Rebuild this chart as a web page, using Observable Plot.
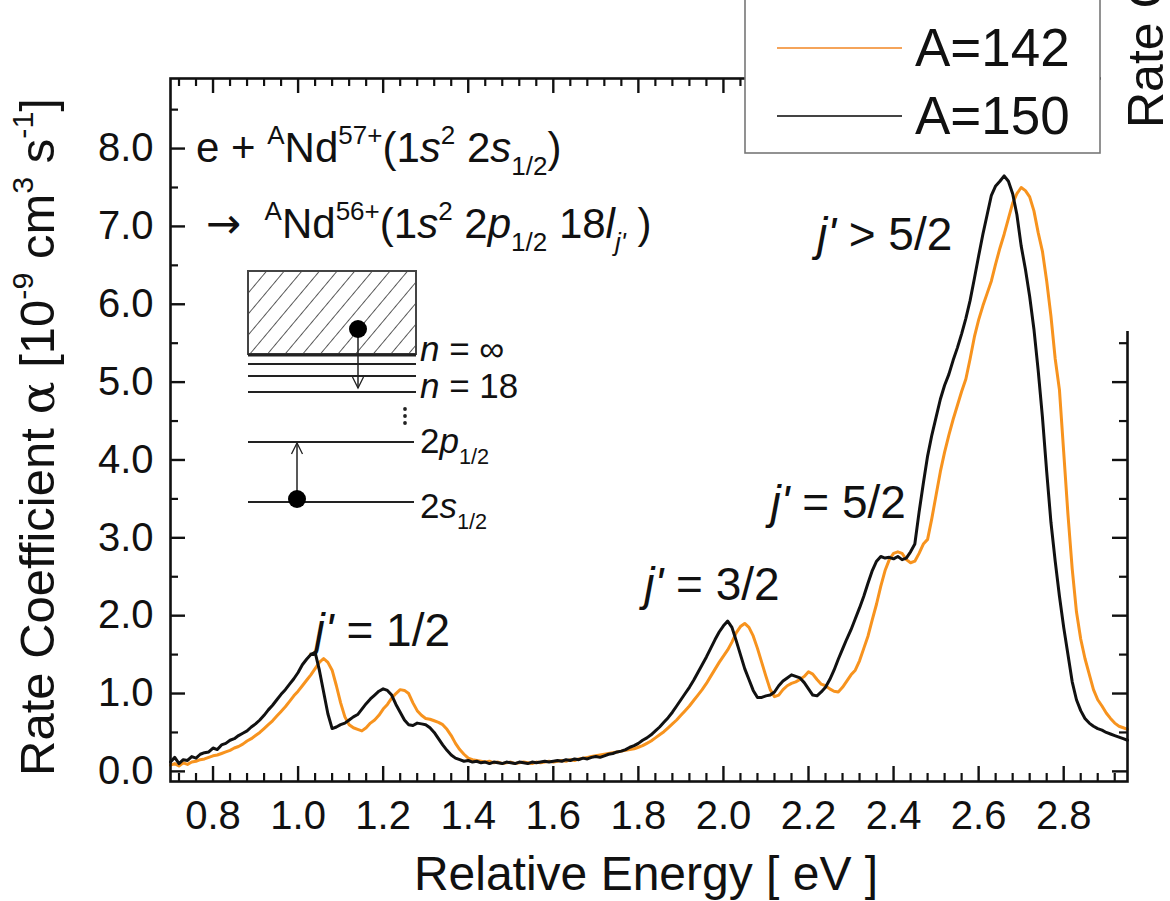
<!DOCTYPE html>
<html><head><meta charset="utf-8">
<script src="https://cdn.jsdelivr.net/npm/d3@7"></script>
<script src="https://cdn.jsdelivr.net/npm/@observablehq/plot@0.6"></script>
<style>
html,body{margin:0;padding:0;background:#fff;}
#chart{width:1170px;height:901px;overflow:hidden;position:relative;}
text{white-space:pre;}
</style></head><body><div id="chart"></div>
<script>
// ---------- data ----------
const energy = [
0.70,0.71,0.72,0.73,0.74,0.75,0.76,0.77,0.78,0.79,
0.80,0.81,0.82,0.83,0.84,0.85,0.86,0.87,0.88,0.89,
0.90,0.91,0.92,0.93,0.94,0.95,0.96,0.97,0.98,0.99,
1.00,1.01,1.02,1.03,1.04,1.05,1.06,1.07,1.08,1.09,
1.10,1.11,1.12,1.13,1.14,1.15,1.16,1.17,1.18,1.19,
1.20,1.21,1.22,1.23,1.24,1.25,1.26,1.27,1.28,1.29,
1.30,1.31,1.32,1.33,1.34,1.35,1.36,1.37,1.38,1.39,
1.40,1.41,1.42,1.43,1.44,1.45,1.46,1.47,1.48,1.49,
1.50,1.51,1.52,1.53,1.54,1.55,1.56,1.57,1.58,1.59,
1.60,1.61,1.62,1.63,1.64,1.65,1.66,1.67,1.68,1.69,
1.70,1.71,1.72,1.73,1.74,1.75,1.76,1.77,1.78,1.79,
1.80,1.81,1.82,1.83,1.84,1.85,1.86,1.87,1.88,1.89,
1.90,1.91,1.92,1.93,1.94,1.95,1.96,1.97,1.98,1.99,
2.00,2.01,2.02,2.03,2.04,2.05,2.06,2.07,2.08,2.09,
2.10,2.11,2.12,2.13,2.14,2.15,2.16,2.17,2.18,2.19,
2.20,2.21,2.22,2.23,2.24,2.25,2.26,2.27,2.28,2.29,
2.30,2.31,2.32,2.33,2.34,2.35,2.36,2.37,2.38,2.39,
2.40,2.41,2.42,2.43,2.44,2.45,2.46,2.47,2.48,2.49,
2.50,2.51,2.52,2.53,2.54,2.55,2.56,2.57,2.58,2.59,
2.60,2.61,2.62,2.63,2.64,2.65,2.66,2.67,2.68,2.69,
2.70,2.71,2.72,2.73,2.74,2.75,2.76,2.77,2.78,2.79,
2.80,2.81,2.82,2.83,2.84,2.85,2.86,2.87,2.88,2.89,
2.90,2.91,2.92,2.93,2.94,2.95];

const rateA142 = [
0.08,0.10,0.07,0.11,0.09,0.12,0.13,0.15,0.16,0.18,
0.20,0.21,0.23,0.25,0.27,0.30,0.32,0.35,0.39,0.42,
0.46,0.50,0.55,0.60,0.65,0.71,0.77,0.83,0.90,0.97,
1.03,1.10,1.17,1.24,1.32,1.40,1.45,1.40,1.30,1.10,
0.88,0.70,0.60,0.56,0.54,0.52,0.56,0.62,0.66,0.72,
0.80,0.86,0.94,1.00,1.05,1.04,1.00,0.88,0.78,0.72,
0.68,0.67,0.65,0.63,0.60,0.54,0.46,0.36,0.28,0.22,
0.17,0.15,0.14,0.13,0.12,0.13,0.11,0.12,0.10,0.11,
0.12,0.10,0.11,0.12,0.11,0.10,0.12,0.11,0.12,0.13,
0.12,0.13,0.14,0.13,0.15,0.14,0.16,0.17,0.18,0.19,
0.20,0.21,0.22,0.23,0.24,0.25,0.26,0.27,0.28,0.29,
0.31,0.33,0.36,0.39,0.43,0.47,0.51,0.56,0.61,0.66,
0.72,0.78,0.84,0.91,0.98,1.05,1.13,1.22,1.31,1.40,
1.48,1.56,1.66,1.78,1.86,1.90,1.85,1.74,1.58,1.40,
1.22,1.05,0.96,0.98,1.05,1.10,1.13,1.15,1.18,1.22,
1.28,1.25,1.18,1.12,1.10,1.06,1.03,1.02,1.08,1.16,
1.24,1.30,1.42,1.58,1.74,1.95,2.15,2.38,2.58,2.72,
2.80,2.82,2.80,2.72,2.68,2.70,2.80,2.92,2.98,3.25,
3.55,3.85,4.10,4.32,4.52,4.70,4.88,5.04,5.30,5.58,
5.80,5.98,6.14,6.30,6.52,6.72,6.90,7.10,7.30,7.42,
7.50,7.46,7.38,7.20,6.92,6.68,6.30,5.85,5.30,4.90,
4.10,3.30,2.60,2.05,1.70,1.45,1.25,1.05,0.92,0.84,
0.75,0.68,0.62,0.58,0.56,0.54];

const rateA150 = [
0.12,0.18,0.10,0.15,0.14,0.19,0.17,0.22,0.24,0.25,
0.30,0.28,0.34,0.36,0.40,0.42,0.46,0.49,0.52,0.57,
0.61,0.66,0.72,0.79,0.85,0.92,0.99,1.05,1.12,1.19,
1.27,1.37,1.44,1.50,1.53,1.30,1.02,0.74,0.55,0.57,
0.60,0.62,0.66,0.70,0.73,0.80,0.87,0.93,0.98,1.03,
1.06,1.04,0.98,0.86,0.76,0.66,0.60,0.59,0.62,0.61,
0.60,0.56,0.50,0.42,0.34,0.27,0.21,0.17,0.15,0.13,
0.14,0.12,0.13,0.11,0.12,0.10,0.12,0.11,0.10,0.12,
0.11,0.10,0.12,0.11,0.10,0.12,0.11,0.12,0.13,0.12,
0.13,0.14,0.13,0.15,0.14,0.16,0.15,0.17,0.16,0.18,
0.19,0.18,0.20,0.22,0.23,0.25,0.26,0.28,0.31,0.33,
0.36,0.40,0.43,0.47,0.52,0.57,0.63,0.69,0.76,0.84,
0.92,1.00,1.08,1.17,1.27,1.37,1.47,1.58,1.69,1.79,
1.87,1.93,1.85,1.68,1.50,1.32,1.18,1.04,0.95,0.95,
0.97,0.98,1.02,1.10,1.16,1.20,1.24,1.22,1.20,1.14,
1.06,0.98,0.97,1.02,1.08,1.18,1.30,1.44,1.57,1.70,
1.82,1.96,2.10,2.25,2.42,2.58,2.70,2.76,2.74,2.75,
2.73,2.76,2.72,2.74,2.82,2.92,3.33,3.70,4.05,4.32,
4.55,4.78,4.96,5.10,5.28,5.44,5.62,5.82,6.05,6.33,
6.62,6.90,7.15,7.40,7.52,7.58,7.65,7.58,7.42,7.15,
6.75,6.45,6.10,5.68,5.15,4.55,3.85,3.20,2.70,2.25,
1.85,1.50,1.15,0.92,0.78,0.68,0.62,0.58,0.55,0.53,
0.50,0.48,0.46,0.44,0.42,0.40];

const seriesNames = ["A=142", "A=150"];
const seriesColors = ["#f7931e", "#111111"];
const xTickValues = [0.8, 1.0, 1.2, 1.4, 1.6, 1.8, 2.0, 2.2, 2.4, 2.6, 2.8];
const yTickValues = [0, 1, 2, 3, 4, 5, 6, 7, 8];
const xDomain = [0.70, 2.95];
const yDomain = [-0.13, 8.9];
// peak labels: [energy, rate, relation, value]
const peakLabels = [
  {E: 1.040, v: 1.60, rel: " = ", val: "1/2"},
  {E: 1.815, v: 2.20, rel: " = ", val: "3/2"},
  {E: 2.112, v: 3.25, rel: " = ", val: "5/2"},
  {E: 2.221, v: 6.69, rel: " > ", val: "5/2"}
];

// ---------- build ----------
const s142 = energy.map((E, i) => ({E, v: rateA142[i], s: seriesNames[0]}));
const s150 = energy.map((E, i) => ({E, v: rateA150[i], s: seriesNames[1]}));

const W = 1170, H = 901, mL = 170, mR = 43, mT = 78, mB = 120;
const fH = H - mT - mB, fW = W - mL - mR;
const xMinor = d3.range(0.72, 2.95, 0.04).filter(t => !xTickValues.some(m => Math.abs(m - t) < 1e-6));
const yMinor = d3.range(0.5, 8.9, 1);
const FONT = "'Liberation Sans', Arial, Helvetica, sans-serif";

const plot = Plot.plot({
  width: W, height: H,
  marginLeft: mL, marginRight: mR, marginTop: mT, marginBottom: mB,
  style: {fontFamily: FONT, fontSize: "40px", color: "#111", background: "#fff", overflow: "visible"},
  x: {domain: xDomain},
  y: {domain: yDomain},
  marks: [
    Plot.line(s142, {x: "E", y: "v", stroke: seriesColors[0], strokeWidth: 3}),
    Plot.line(s150, {x: "E", y: "v", stroke: seriesColors[1], strokeWidth: 3}),
    // inward ticks
    Plot.tickX(xTickValues, {x: d => d, insetTop: fH - 15, stroke: "#111", strokeWidth: 2.4}),
    Plot.tickX(xMinor, {x: d => d, insetTop: fH - 8, stroke: "#111", strokeWidth: 2.2}),
    Plot.tickX(xTickValues, {x: d => d, insetBottom: fH - 15, stroke: "#111", strokeWidth: 2.4}),
    Plot.tickX(xMinor, {x: d => d, insetBottom: fH - 8, stroke: "#111", strokeWidth: 2.2}),
    Plot.tickY(yTickValues, {y: d => d, insetRight: fW - 15, stroke: "#111", strokeWidth: 2.4}),
    Plot.tickY(yMinor, {y: d => d, insetRight: fW - 8, stroke: "#111", strokeWidth: 2.2}),
    Plot.tickY(yTickValues, {y: d => d, insetLeft: fW - 15, stroke: "#111", strokeWidth: 2.4}),
    Plot.tickY(yMinor, {y: d => d, insetLeft: fW - 8, stroke: "#111", strokeWidth: 2.2}),
    Plot.axisX({ticks: xTickValues, tickSize: 0, tickPadding: 19, tickFormat: d3.format(".1f"), fontSize: 40, label: null}),
    Plot.axisY({ticks: yTickValues, tickSize: 0, tickPadding: 17, tickFormat: d3.format(".1f"), fontSize: 40, label: null}),
    Plot.frame({stroke: "#111", strokeWidth: 2.6})
  ]
});
document.getElementById("chart").appendChild(plot);

const svg = d3.select(plot);
const xs = plot.scale("x"), ys = plot.scale("y");

function rich(sel, x, y, size, parts, extra) {
  const t = sel.append("text").attr("x", x).attr("y", y).attr("text-anchor", "start")
    .attr("font-size", size).attr("font-family", FONT).attr("fill", "#111");
  if (extra) extra(t);
  let shift = 0;
  for (const p of parts) {
    const target = p.sup ? -0.42 * size : p.sub ? 0.30 * size : 0;
    const fs = (p.sup || p.sub) ? size * 0.62 : size;
    const ts = t.append("tspan").attr("dy", target - shift).attr("font-size", fs)
      .attr("font-style", p.it ? "italic" : "normal").text(p.t);
    if (p.font) ts.attr("font-family", p.font);
    shift = target;
  }
  return t;
}

// axis titles
svg.append("text").attr("x", 646).attr("y", 890).attr("text-anchor", "middle")
  .attr("font-size", 48).attr("font-family", FONT).attr("fill", "#111")
  .text("Relative Energy [ eV ]");
rich(svg, 0, 0, 49, [
  {t: "Rate Coefficient "}, {t: "α", font: "'DejaVu Serif', serif"}, {t: " [10"}, {t: "-9", sup: true},
  {t: " cm"}, {t: "3", sup: true}, {t: " s"}, {t: "-1", sup: true}, {t: "]"}
], t => t.attr("text-anchor", "middle").attr("transform", "translate(54,437) rotate(-90)"));

// reaction formula
rich(svg, 196, 162, 42, [
  {t: "e + "}, {t: "A", sup: true}, {t: "Nd"}, {t: "57+", sup: true}, {t: "(1"}, {t: "s", it: true},
  {t: "2", sup: true}, {t: " 2"}, {t: "s", it: true}, {t: "1/2", sub: true}, {t: ")"}
]);
rich(svg, 206, 238, 42, [
  {t: "→", font: "'DejaVu Sans', sans-serif"}, {t: "  "}, {t: "A", sup: true}, {t: "Nd"}, {t: "56+", sup: true}, {t: "(1"}, {t: "s", it: true},
  {t: "2", sup: true}, {t: " 2"}, {t: "p", it: true}, {t: "1/2", sub: true}, {t: " 18"}, {t: "l", it: true},
  {t: "j'", sub: true, it: true}, {t: " )"}
]);

// peak labels
for (const p of peakLabels) {
  rich(svg, xs.apply(p.E), ys.apply(p.v), 46, [{t: "j'", it: true}, {t: p.rel + p.val}]);
}

// energy level inset
const g = svg.append("g").attr("stroke", "#222").attr("fill", "none");
const defs = svg.append("defs");
const pat = defs.append("pattern").attr("id", "hatch").attr("patternUnits", "userSpaceOnUse")
  .attr("width", 13.5).attr("height", 13.5).attr("patternTransform", "rotate(40)");
pat.append("line").attr("x1", 0).attr("y1", 0).attr("x2", 0).attr("y2", 13.5)
  .attr("stroke", "#333").attr("stroke-width", 1.6);
g.append("rect").attr("x", 248).attr("y", 271).attr("width", 168).attr("height", 83)
  .attr("fill", "url(#hatch)").attr("stroke", "#444").attr("stroke-width", 2);
g.append("line").attr("x1", 248).attr("x2", 416).attr("y1", 355).attr("y2", 355).attr("stroke-width", 3);
for (const yy of [364, 376, 392]) g.append("line").attr("x1", 248).attr("x2", 416).attr("y1", yy).attr("y2", yy).attr("stroke-width", 1.8);
g.append("line").attr("x1", 248).attr("x2", 414).attr("y1", 442).attr("y2", 442).attr("stroke-width", 1.8);
g.append("line").attr("x1", 248).attr("x2", 414).attr("y1", 502).attr("y2", 502).attr("stroke-width", 1.8);
g.append("line").attr("x1", 358).attr("x2", 358).attr("y1", 329).attr("y2", 388).attr("stroke-width", 1.5);
g.append("path").attr("d", "M352.5,377 L358,388 L363.5,377").attr("stroke-width", 1.3);
g.append("line").attr("x1", 297).attr("x2", 297).attr("y1", 499).attr("y2", 443).attr("stroke-width", 1.5);
g.append("path").attr("d", "M291.5,454 L297,443 L302.5,454").attr("stroke-width", 1.3);
g.append("circle").attr("cx", 358).attr("cy", 329).attr("r", 9).attr("fill", "#000").attr("stroke", "none");
g.append("circle").attr("cx", 297).attr("cy", 499).attr("r", 9).attr("fill", "#000").attr("stroke", "none");
for (const yy of [409, 416, 423]) g.append("circle").attr("cx", 405).attr("cy", yy).attr("r", 1.9).attr("fill", "#222").attr("stroke", "none");
rich(svg, 420, 361, 35, [{t: "n", it: true}, {t: " = ∞"}]);
rich(svg, 420, 398, 35, [{t: "n", it: true}, {t: " = 18"}]);
rich(svg, 420, 453, 35, [{t: "2"}, {t: "p", it: true}, {t: "1/2", sub: true}]);
rich(svg, 420, 518, 35, [{t: "2"}, {t: "s", it: true}, {t: "1/2", sub: true}]);

// white overlay of the neighbouring panel and its cut title
svg.append("rect").attr("x", 1101).attr("y", 0).attr("width", 69).attr("height", 331).attr("fill", "#fff");
svg.append("text").attr("transform", "translate(1163,128) rotate(-90)").attr("text-anchor", "start")
  .attr("font-size", 50).attr("font-family", FONT).attr("fill", "#111").text("Rate C");

// legend
const lg = svg.append("g");
lg.append("rect").attr("x", 745).attr("y", -6).attr("width", 355).attr("height", 159)
  .attr("fill", "#fff").attr("stroke", "#777").attr("stroke-width", 1.6);
seriesNames.forEach((name, i) => {
  const yy = 48 + i * 68;
  lg.append("line").attr("x1", 777).attr("x2", 902).attr("y1", yy).attr("y2", yy)
    .attr("stroke", i === 0 ? "#f5a45a" : "#444").attr("stroke-width", 2);
  lg.append("text").attr("x", 915).attr("y", yy + 18).attr("text-anchor", "start").attr("font-size", 53)
    .attr("font-family", FONT).attr("fill", "#111").text(name);
});
</script></body></html>
